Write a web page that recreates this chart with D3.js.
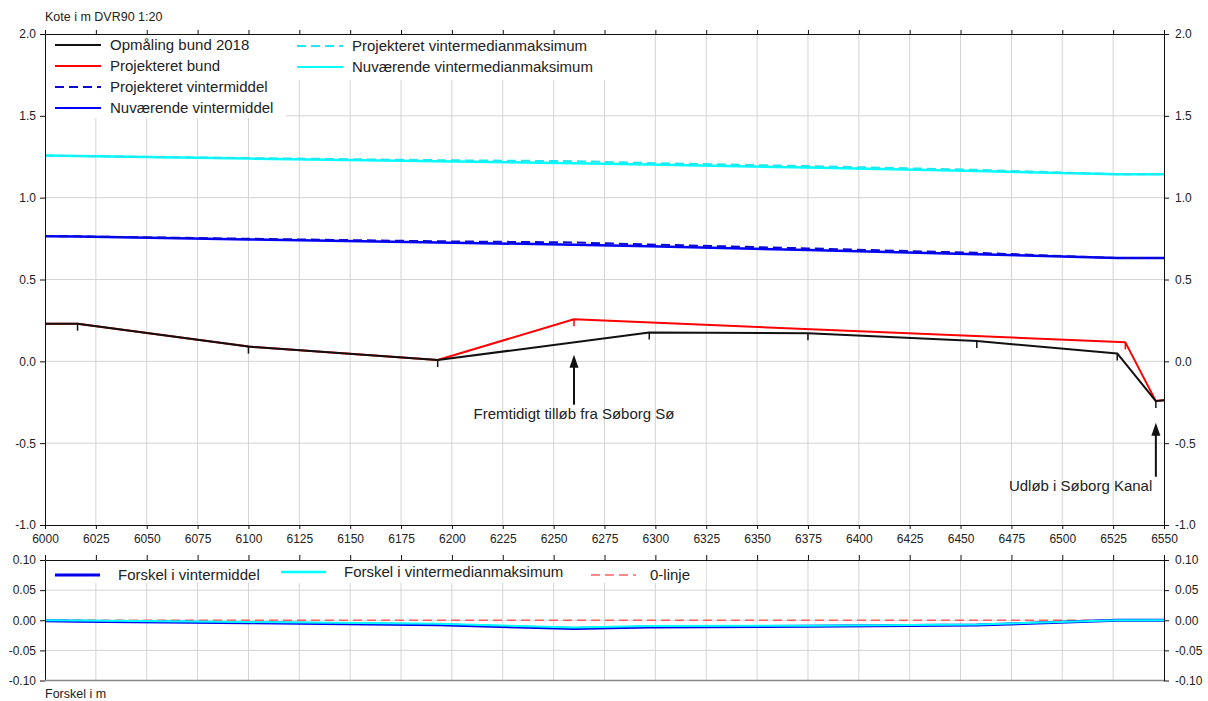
<!DOCTYPE html>
<html><head><meta charset="utf-8">
<script src="https://cdn.jsdelivr.net/npm/d3@7"></script>
<style>
body{margin:0;background:#fff;}
svg text{font-family:"Liberation Sans",Arial,sans-serif;fill:#222;}
</style></head><body>
<svg id="c" width="1208" height="701"></svg>
<script>
// ---- data ----
const stations = [6000, 6016, 6100, 6193, 6260, 6297, 6375, 6458, 6527, 6550];
const bundX = [6000, 6016, 6100, 6193, 6297, 6375, 6458, 6527, 6546, 6550];
const bundY = [0.23, 0.23, 0.09, 0.008, 0.176, 0.172, 0.124, 0.048, -0.243, -0.238];
const bundTicks = [6016, 6100, 6193, 6297, 6375, 6458, 6527, 6546];
const projBundX = [6000, 6016, 6100, 6193, 6260, 6531, 6546, 6550];
const projBundY = [0.23, 0.23, 0.09, 0.008, 0.257, 0.116, -0.243, -0.238];
const projBundTicks = [6260, 6531];
const nuvMiddel = [0.765, 0.762, 0.745, 0.726, 0.713, 0.703, 0.680, 0.655, 0.631, 0.631];
const nuvMaks = [1.257, 1.254, 1.239, 1.223, 1.211, 1.202, 1.184, 1.163, 1.143, 1.143];
const diffMiddel = [-0.001, -0.0015, -0.004, -0.0075, -0.0135, -0.011, -0.010, -0.008, 0, 0];
const diffMaks = [0, -0.0005, -0.003, -0.006, -0.012, -0.0095, -0.009, -0.007, 0, 0];
const xTicks = d3.range(6000, 6551, 25);
const yTopTicks = [-1.0, -0.5, 0.0, 0.5, 1.0, 1.5, 2.0];
const yBotTicks = [-0.10, -0.05, 0.00, 0.05, 0.10];
const annotations = [
  {text: "Fremtidigt tilløb fra Søborg Sø", x: 6260, tip: 0.04, tail: -0.265, label: -0.35},
  {text: "Udløb i Søborg Kanal", x: 6546, tip: -0.375, tail: -0.705, label: -0.795, lx: 6509}
];
// projected = current - diff
const projMiddel = nuvMiddel.map((v, i) => v - diffMiddel[i]);
const projMaks = nuvMaks.map((v, i) => v - diffMaks[i]);

// ---- layout ----
const svg = d3.select("#c");
const L = 45, R = 1164;
const x = d3.scaleLinear().domain([6000, 6550]).range([L, R]);
const yT = d3.scaleLinear().domain([-1, 2]).range([525, 34]);
const yB = d3.scaleLinear().domain([-0.1, 0.1]).range([680.5, 560]);
const FONT = 12;

function grid(y, yTicks, y0, y1) {
  const g = svg.append("g").attr("stroke", "#d4d4d4").attr("stroke-width", 1);
  xTicks.slice(1, -1).forEach(t => g.append("line").attr("x1", x(t)).attr("x2", x(t)).attr("y1", y0).attr("y2", y1));
  yTicks.slice(1, -1).forEach(t => g.append("line").attr("x1", L).attr("x2", R).attr("y1", y(t)).attr("y2", y(t)));
}
grid(yT, yTopTicks, 34, 525);
grid(yB, yBotTicks, 560, 680.5);

// legend backgrounds
svg.append("rect").attr("x", L + 1).attr("y", 35).attr("width", 240).attr("height", 83).attr("fill", "#fff");
svg.append("rect").attr("x", 286).attr("y", 35).attr("width", 330).attr("height", 45).attr("fill", "#fff");
svg.append("rect").attr("x", L + 1).attr("y", 561).attr("width", 660).attr("height", 22).attr("fill", "#fff");

// ---- top panel lines ----
const lineT = (xs, ys) => d3.line().x((d, i) => x(xs[i])).y((d, i) => yT(ys[i]))(ys);
function path(d, color, w, dash) {
  const p = svg.append("path").attr("d", d).attr("fill", "none").attr("stroke", color).attr("stroke-width", w).attr("stroke-linejoin", "round");
  if (dash) p.attr("stroke-dasharray", dash);
  return p;
}
path(lineT(stations, nuvMaks), "#00ffff", 2.5);
path(lineT(stations, projMaks), "#20e8f0", 2, "9,5");
path(lineT(stations, nuvMiddel), "#0000ff", 2.5);
path(lineT(stations, projMiddel), "#0a0ad0", 2, "9,5");
path(lineT(projBundX, projBundY), "#ff0000", 2);
path(lineT(bundX, bundY), "#111", 2);

function interp(xs, ys, t) {
  for (let i = 0; i < xs.length - 1; i++) if (t >= xs[i] && t <= xs[i + 1]) return ys[i] + (ys[i + 1] - ys[i]) * (t - xs[i]) / (xs[i + 1] - xs[i]);
  return ys[ys.length - 1];
}
bundTicks.forEach(t => svg.append("line").attr("x1", x(t)).attr("x2", x(t)).attr("y1", yT(interp(bundX, bundY, t))).attr("y2", yT(interp(bundX, bundY, t)) + 7).attr("stroke", "#111").attr("stroke-width", 1.5));
projBundTicks.forEach(t => svg.append("line").attr("x1", x(t)).attr("x2", x(t)).attr("y1", yT(interp(projBundX, projBundY, t))).attr("y2", yT(interp(projBundX, projBundY, t)) + 7).attr("stroke", "#ff0000").attr("stroke-width", 1.5));

// annotations
annotations.forEach(a => {
  const ax = x(a.x), tipY = yT(a.tip), tailY = yT(a.tail);
  svg.append("line").attr("x1", ax).attr("x2", ax).attr("y1", tailY).attr("y2", tipY + 10).attr("stroke", "#111").attr("stroke-width", 2);
  svg.append("path").attr("d", `M${ax},${tipY} L${ax - 4.5},${tipY + 13} L${ax + 4.5},${tipY + 13} Z`).attr("fill", "#111");
  svg.append("text").attr("x", x(a.lx || a.x)).attr("y", yT(a.label)).attr("text-anchor", "middle").attr("font-size", 15).text(a.text);
});

// ---- bottom panel lines ----
const lineB = ys => d3.line().x((d, i) => x(stations[i])).y((d, i) => yB(ys[i]))(ys);
svg.append("line").attr("x1", L).attr("x2", R).attr("y1", yB(0)).attr("y2", yB(0)).attr("stroke", "#ff6060").attr("stroke-width", 1.5).attr("stroke-dasharray", "9,5");
path(lineB(diffMiddel), "#0000ee", 3);
path(lineB(diffMaks), "#00ffff", 2);

// ---- axes ----
const fmt1 = d => d.toFixed(1), fmt2 = d => d.toFixed(2);
function styleAxis(g, hideText) {
  g.select(".domain").attr("stroke", "#111");
  g.selectAll(".tick line").attr("stroke", "#111");
  g.selectAll("text").attr("font-size", FONT).attr("font-family", '"Liberation Sans",Arial,sans-serif').attr("fill", "#222");
  if (hideText) g.selectAll("text").remove();
}
svg.append("g").attr("transform", `translate(${L},0)`).call(d3.axisLeft(yT).tickValues(yTopTicks).tickFormat(fmt1).tickSize(5).tickSizeOuter(0).tickPadding(4)).call(g => styleAxis(g));
svg.append("g").attr("transform", `translate(${R},0)`).call(d3.axisRight(yT).tickValues(yTopTicks).tickFormat(fmt1).tickSize(5).tickSizeOuter(0).tickPadding(6)).call(g => styleAxis(g));
svg.append("g").attr("transform", `translate(0,34)`).call(d3.axisTop(x).tickValues(xTicks).tickSize(4).tickSizeOuter(0)).call(g => styleAxis(g, true));
svg.append("g").attr("transform", `translate(0,525)`).call(d3.axisBottom(x).tickValues(xTicks).tickFormat(d3.format("d")).tickSize(4).tickSizeOuter(0).tickPadding(5)).call(g => styleAxis(g));

svg.append("g").attr("transform", `translate(${L},0)`).call(d3.axisLeft(yB).tickValues(yBotTicks).tickFormat(fmt2).tickSize(5).tickSizeOuter(0).tickPadding(4)).call(g => styleAxis(g));
svg.append("g").attr("transform", `translate(${R},0)`).call(d3.axisRight(yB).tickValues(yBotTicks).tickFormat(fmt2).tickSize(5).tickSizeOuter(0).tickPadding(6)).call(g => styleAxis(g));
svg.append("g").attr("transform", `translate(0,560)`).call(d3.axisTop(x).tickValues(xTicks).tickSize(5).tickSizeOuter(0)).call(g => styleAxis(g, true));
svg.append("line").attr("x1", L).attr("x2", R).attr("y1", 680.5).attr("y2", 680.5).attr("stroke", "#888").attr("stroke-width", 1.5);

// titles
svg.append("text").attr("x", 45).attr("y", 21).attr("font-size", 12.5).text("Kote i m DVR90 1:20");
svg.append("text").attr("x", 45).attr("y", 698).attr("font-size", 12.5).text("Forskel i m");

// ---- legends ----
const legTop = [
  {label: "Opmåling bund 2018", color: "#111", dash: null, x: 55, y: 45},
  {label: "Projekteret bund", color: "#ff0000", dash: null, x: 55, y: 66},
  {label: "Projekteret vintermiddel", color: "#0a0ad0", dash: "9,5", x: 55, y: 87},
  {label: "Nuværende vintermiddel", color: "#0000ff", dash: null, x: 55, y: 108},
  {label: "Projekteret vintermedianmaksimum", color: "#20e8f0", dash: "9,5", x: 297, y: 46},
  {label: "Nuværende vintermedianmaksimum", color: "#00ffff", dash: null, x: 297, y: 67}
];
legTop.forEach(d => {
  const l = svg.append("line").attr("x1", d.x).attr("x2", d.x + 46).attr("y1", d.y).attr("y2", d.y).attr("stroke", d.color).attr("stroke-width", 2);
  if (d.dash) l.attr("stroke-dasharray", d.dash);
  svg.append("text").attr("x", d.x + 55).attr("y", d.y + 5).attr("font-size", 15).text(d.label);
});
const legBot = [
  {label: "Forskel i vintermiddel", color: "#0000ee", dash: null, x: 55, tx: 118, y: 575, w: 3},
  {label: "Forskel i vintermedianmaksimum", color: "#00ffff", dash: null, x: 281, tx: 344, y: 572, w: 2.5},
  {label: "0-linje", color: "#ff6060", dash: "9,5", x: 591, tx: 650, y: 575, w: 1.5}
];
legBot.forEach(d => {
  const l = svg.append("line").attr("x1", d.x).attr("x2", d.x + 45).attr("y1", d.y).attr("y2", d.y).attr("stroke", d.color).attr("stroke-width", d.w);
  if (d.dash) l.attr("stroke-dasharray", d.dash);
  svg.append("text").attr("x", d.tx).attr("y", d.y + 5).attr("font-size", 15).text(d.label);
});
</script></body></html>
